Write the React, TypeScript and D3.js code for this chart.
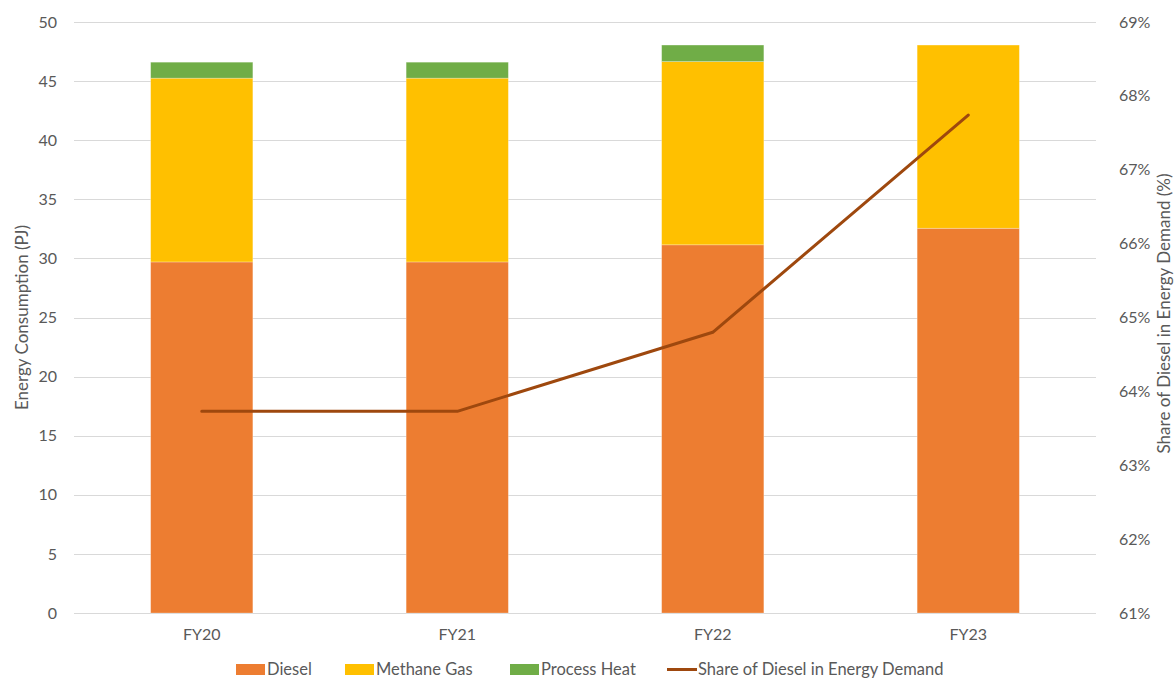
import React, { useEffect, useRef } from "react";
import * as d3 from "d3";

const years = ["FY20", "FY21", "FY22", "FY23"];
const diesel = [29.7, 29.7, 31.15, 32.55];
const methane = [15.55, 15.55, 15.5, 15.5];
const processHeat = [1.35, 1.35, 1.4, 0];
const dieselShare = [63.73, 63.73, 64.8, 67.74];

const leftTicks = [0, 5, 10, 15, 20, 25, 30, 35, 40, 45, 50];
const rightTicks = [61, 62, 63, 64, 65, 66, 67, 68, 69];

const seriesNames = ["Diesel", "Methane Gas", "Process Heat"];
const lineName = "Share of Diesel in Energy Demand";
const colors = ["#ED7D31", "#FFC000", "#70AD47"];
const lineColor = "#9E480E";

const W = 1176;
const H = 680;
const FONT = "Lato, 'Open Sans', sans-serif";
const TEXT = "#595959";
const LABEL_SIZE = 16;
const TITLE_SIZE = 17;

export default function App() {
  const ref = useRef<SVGSVGElement | null>(null);

  useEffect(() => {
    const svg = d3.select(ref.current);
    svg.selectAll("*").remove();

    const left = 74;
    const right = 1096;
    const top = 22;
    const bottom = 613;

    const x = d3.scaleBand<string>().domain(years).range([left, right]).paddingInner(0.6).paddingOuter(0.3);
    const y = d3.scaleLinear().domain([0, 50]).range([bottom, top]);
    const y2 = d3.scaleLinear().domain([61, 69]).range([bottom, top]);

    // gridlines
    svg.append("g")
      .selectAll("line")
      .data(leftTicks)
      .join("line")
      .attr("x1", left)
      .attr("x2", right)
      .attr("y1", (d) => Math.round(y(d)) + 0.5)
      .attr("y2", (d) => Math.round(y(d)) + 0.5)
      .attr("stroke", "#D9D9D9")
      .attr("stroke-width", 1);

    // stacked bars
    const rows = years.map((yr, i) => ({
      year: yr,
      Diesel: diesel[i],
      "Methane Gas": methane[i],
      "Process Heat": processHeat[i],
    }));
    const stack = d3.stack<any>().keys(seriesNames)(rows);
    svg.append("g")
      .selectAll("g")
      .data(stack)
      .join("g")
      .attr("fill", (_, i) => colors[i])
      .selectAll("rect")
      .data((s) => s.filter((d) => d[1] - d[0] > 0))
      .join("rect")
      .attr("x", (d) => x(d.data.year) as number)
      .attr("width", x.bandwidth())
      .attr("y", (d) => y(d[1]))
      .attr("height", (d) => y(d[0]) - y(d[1]))
      .attr("stroke", "#ffffff")
      .attr("stroke-opacity", 0.35)
      .attr("stroke-width", 0.75);

    // share line
    const line = d3
      .line<number>()
      .x((_, i) => (x(years[i]) as number) + x.bandwidth() / 2)
      .y((d) => y2(d));
    svg.append("path")
      .datum(dieselShare)
      .attr("d", line)
      .attr("fill", "none")
      .attr("stroke", lineColor)
      .attr("stroke-width", 3)
      .attr("stroke-linejoin", "round")
      .attr("stroke-linecap", "round");

    // left tick labels
    svg.append("g")
      .selectAll("text")
      .data(leftTicks)
      .join("text")
      .attr("x", 57)
      .attr("y", (d) => y(d))
      .attr("dy", "0.35em")
      .attr("text-anchor", "end")
      .attr("font-family", FONT)
      .attr("font-size", LABEL_SIZE)
      .attr("fill", TEXT)
      .text((d) => d);

    // right tick labels
    svg.append("g")
      .selectAll("text")
      .data(rightTicks)
      .join("text")
      .attr("x", 1119)
      .attr("y", (d) => y2(d))
      .attr("dy", "0.35em")
      .attr("text-anchor", "start")
      .attr("font-family", FONT)
      .attr("font-size", LABEL_SIZE)
      .attr("fill", TEXT)
      .text((d) => `${d}%`);

    // category labels
    svg.append("g")
      .selectAll("text")
      .data(years)
      .join("text")
      .attr("x", (d) => (x(d) as number) + x.bandwidth() / 2)
      .attr("y", 634)
      .attr("dy", "0.35em")
      .attr("text-anchor", "middle")
      .attr("font-family", FONT)
      .attr("font-size", LABEL_SIZE)
      .attr("fill", TEXT)
      .text((d) => d);

    // axis titles
    svg.append("text")
      .attr("transform", `translate(22,${(top + bottom) / 2}) rotate(-90)`)
      .attr("text-anchor", "middle")
      .attr("dy", "0.35em")
      .attr("font-family", FONT)
      .attr("font-size", TITLE_SIZE)
      .attr("fill", TEXT)
      .text("Energy Consumption (PJ)");

    svg.append("text")
      .attr("transform", `translate(1164,${(top + bottom) / 2 - 4}) rotate(-90)`)
      .attr("text-anchor", "middle")
      .attr("dy", "0.35em")
      .attr("font-family", FONT)
      .attr("font-size", TITLE_SIZE)
      .attr("fill", TEXT)
      .text("Share of Diesel in Energy Demand (%)");

    // legend
    const legendY = 669;
    const legendItems = [
      { name: seriesNames[0], color: colors[0], kind: "rect", x: 236 },
      { name: seriesNames[1], color: colors[1], kind: "rect", x: 345 },
      { name: seriesNames[2], color: colors[2], kind: "rect", x: 510 },
      { name: lineName, color: lineColor, kind: "line", x: 667 },
    ];
    const lg = svg.append("g");
    legendItems.forEach((it) => {
      if (it.kind === "rect") {
        lg.append("rect")
          .attr("x", it.x)
          .attr("y", legendY - 5)
          .attr("width", 29)
          .attr("height", 11)
          .attr("fill", it.color);
      } else {
        lg.append("line")
          .attr("x1", it.x)
          .attr("x2", it.x + 30)
          .attr("y1", legendY + 0.5)
          .attr("y2", legendY + 0.5)
          .attr("stroke", it.color)
          .attr("stroke-width", 3);
      }
      lg.append("text")
        .attr("x", it.x + 31)
        .attr("y", legendY)
        .attr("dy", "0.35em")
        .attr("font-family", FONT)
        .attr("font-size", 16.5)
        .attr("fill", TEXT)
        .text(it.name);
    });
  }, []);

  return (
    <svg
      ref={ref}
      width={W}
      height={H}
      style={{ position: "absolute", left: 0, top: 0, background: "#ffffff" }}
    />
  );
}
